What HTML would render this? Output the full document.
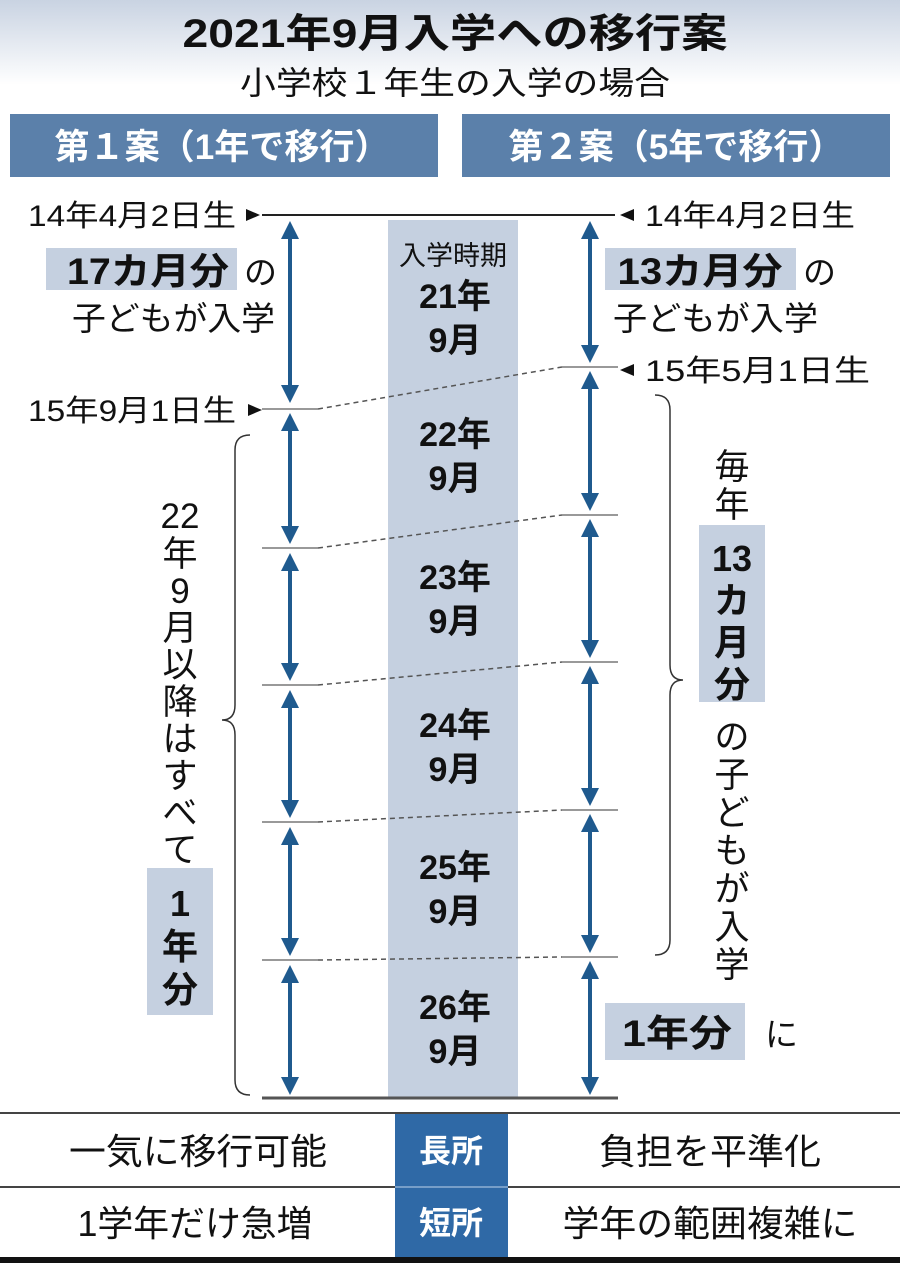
<!DOCTYPE html>
<html><head><meta charset="utf-8"><style>
html,body{margin:0;padding:0;background:#fff;}
svg{display:block;}
text{font-family:"Liberation Sans","Noto Sans CJK JP",sans-serif;fill:#111;}
.b{font-weight:bold;}
</style></head><body>
<svg width="900" height="1263" viewBox="0 0 900 1263" xmlns="http://www.w3.org/2000/svg">
<defs>
<linearGradient id="g" x1="0" y1="0" x2="0" y2="1"><stop offset="0" stop-color="#c9d3e2"/><stop offset="1" stop-color="#fff"/></linearGradient>
<marker id="ah" viewBox="0 0 10 10" refX="5" refY="5" markerWidth="4.5" markerHeight="4.5" orient="auto-start-reverse"><path d="M0,0L10,5L0,10z" fill="#1f5a8e"/></marker>
</defs>
<rect x="0" y="0" width="900" height="85" fill="url(#g)"/>
<text x="455" y="47" font-size="40" text-anchor="middle" class="b" textLength="545" lengthAdjust="spacingAndGlyphs">2021年9月入学への移行案</text>
<text x="455" y="94" font-size="32" text-anchor="middle" textLength="430" lengthAdjust="spacingAndGlyphs">小学校１年生の入学の場合</text>
<rect x="10" y="114" width="428" height="63" fill="#5b80aa"/>
<rect x="462" y="114" width="428" height="63" fill="#5b80aa"/>
<text x="222" y="159" font-size="35" text-anchor="middle" class="b" style="fill:#fff" textLength="335" lengthAdjust="spacingAndGlyphs">第１案（1年で移行）</text>
<text x="676" y="159" font-size="35" text-anchor="middle" class="b" style="fill:#fff" textLength="335" lengthAdjust="spacingAndGlyphs">第２案（5年で移行）</text>
<rect x="388" y="220" width="130" height="878" fill="#c5d0e0"/>
<line x1="262" y1="215" x2="615" y2="215" stroke="#222" stroke-width="2"/>
<line x1="262" y1="1098" x2="618" y2="1098" stroke="#555" stroke-width="3"/>
<path d="M246,209L260,215L246,221z" fill="#111"/>
<path d="M248,404L262,410L248,416z" fill="#111"/>
<path d="M634,209L620,215L634,221z" fill="#111"/>
<path d="M634,364L620,370L634,376z" fill="#111"/>
<text x="236" y="226" font-size="30" text-anchor="end" textLength="208" lengthAdjust="spacingAndGlyphs">14年4月2日生</text>
<text x="645" y="226" font-size="30" textLength="210" lengthAdjust="spacingAndGlyphs">14年4月2日生</text>
<text x="236" y="421" font-size="30" text-anchor="end" textLength="208" lengthAdjust="spacingAndGlyphs">15年9月1日生</text>
<text x="645" y="381" font-size="30" textLength="225" lengthAdjust="spacingAndGlyphs">15年5月1日生</text>
<g stroke="#999" stroke-width="2">
<line x1="262" y1="409" x2="318" y2="409"/><line x1="262" y1="548" x2="318" y2="548"/><line x1="262" y1="685" x2="318" y2="685"/><line x1="262" y1="822" x2="318" y2="822"/><line x1="262" y1="960" x2="318" y2="960"/>
<line x1="562" y1="367" x2="618" y2="367"/><line x1="562" y1="515" x2="618" y2="515"/><line x1="562" y1="662" x2="618" y2="662"/><line x1="562" y1="810" x2="618" y2="810"/><line x1="562" y1="957" x2="618" y2="957"/>
</g>
<g stroke="#555" stroke-width="1.5" stroke-dasharray="5,4">
<line x1="318" y1="409" x2="562" y2="367"/><line x1="318" y1="548" x2="562" y2="515"/><line x1="318" y1="685" x2="562" y2="662"/><line x1="318" y1="822" x2="562" y2="810"/><line x1="318" y1="960" x2="562" y2="957"/>
</g>
<g stroke="#1f5a8e" stroke-width="4" marker-start="url(#ah)" marker-end="url(#ah)">
<line x1="290" y1="230" x2="290" y2="394"/><line x1="290" y1="422" x2="290" y2="535"/><line x1="290" y1="562" x2="290" y2="672"/><line x1="290" y1="699" x2="290" y2="809"/><line x1="290" y1="836" x2="290" y2="947"/><line x1="290" y1="974" x2="290" y2="1086"/>
<line x1="590" y1="230" x2="590" y2="354"/><line x1="590" y1="380" x2="590" y2="502"/><line x1="590" y1="528" x2="590" y2="649"/><line x1="590" y1="675" x2="590" y2="797"/><line x1="590" y1="823" x2="590" y2="944"/><line x1="590" y1="970" x2="590" y2="1086"/>
</g>
<g font-size="34" text-anchor="middle" class="b">
<text x="453" y="265" font-size="27" font-weight="normal">入学時期</text>
<text x="455" y="308">21年</text><text x="455" y="352">9月</text>
<text x="455" y="446">22年</text><text x="455" y="490">9月</text>
<text x="455" y="589">23年</text><text x="455" y="633">9月</text>
<text x="455" y="737">24年</text><text x="455" y="781">9月</text>
<text x="455" y="879">25年</text><text x="455" y="923">9月</text>
<text x="455" y="1019">26年</text><text x="455" y="1063">9月</text>
</g>
<rect x="46" y="248" width="191" height="42" fill="#c5d0e0"/>
<text x="148" y="284" font-size="37" text-anchor="middle" class="b" textLength="162" lengthAdjust="spacingAndGlyphs">17カ月分</text>
<text x="244" y="284" font-size="33">の</text>
<text x="72" y="330" font-size="33" textLength="203" lengthAdjust="spacingAndGlyphs">子どもが入学</text>
<rect x="605" y="248" width="191" height="42" fill="#c5d0e0"/>
<text x="700" y="284" font-size="37" text-anchor="middle" class="b" textLength="165" lengthAdjust="spacingAndGlyphs">13カ月分</text>
<text x="803" y="284" font-size="33">の</text>
<text x="613" y="330" font-size="33" textLength="205" lengthAdjust="spacingAndGlyphs">子どもが入学</text>
<path d="M250,435 Q235,435 235,450 L235,705 Q235,720 222,720 Q235,720 235,735 L235,1080 Q235,1095 250,1095" fill="none" stroke="#333" stroke-width="1.5"/>
<path d="M655,395 Q670,395 670,410 L670,665 Q670,680 683,680 Q670,680 670,695 L670,940 Q670,955 655,955" fill="none" stroke="#333" stroke-width="1.5"/>
<g font-size="35" text-anchor="middle">
<text x="180" y="528">22</text><text x="180" y="566">年</text><text x="180" y="603">9</text><text x="180" y="640">月</text><text x="180" y="677">以</text><text x="180" y="714">降</text><text x="180" y="751">は</text><text x="180" y="788">す</text><text x="180" y="825">べ</text><text x="180" y="862">て</text>
</g>
<rect x="147" y="868" width="66" height="147" fill="#c5d0e0"/>
<g font-size="36" text-anchor="middle" class="b"><text x="180" y="916">1</text><text x="180" y="959">年</text><text x="180" y="1002">分</text></g>
<g font-size="35" text-anchor="middle">
<text x="732" y="479">毎</text><text x="732" y="517">年</text>
<text x="732" y="749">の</text><text x="732" y="787">子</text><text x="732" y="825">ど</text><text x="732" y="863">も</text><text x="732" y="901">が</text><text x="732" y="939">入</text><text x="732" y="977">学</text>
</g>
<rect x="699" y="525" width="66" height="177" fill="#c5d0e0"/>
<g font-size="36" text-anchor="middle" class="b"><text x="732" y="571">13</text><text x="732" y="613">カ</text><text x="732" y="655">月</text><text x="732" y="697">分</text></g>
<rect x="605" y="1003" width="140" height="57" fill="#c5d0e0"/>
<text x="677" y="1046" font-size="37" text-anchor="middle" class="b" textLength="110" lengthAdjust="spacingAndGlyphs">1年分</text>
<text x="765" y="1046" font-size="33">に</text>
<line x1="0" y1="1113" x2="900" y2="1113" stroke="#444" stroke-width="2"/>
<line x1="0" y1="1187" x2="900" y2="1187" stroke="#444" stroke-width="2"/>
<rect x="395" y="1114" width="113" height="144" fill="#2f69a6"/>
<line x1="395" y1="1187" x2="508" y2="1187" stroke="#8fb0d4" stroke-width="1.5"/>
<rect x="0" y="1257" width="900" height="6" fill="#111"/>
<g font-size="36" text-anchor="middle">
<text x="198" y="1164" textLength="258" lengthAdjust="spacingAndGlyphs">一気に移行可能</text><text x="710" y="1164" textLength="222" lengthAdjust="spacingAndGlyphs">負担を平準化</text>
<text x="195" y="1236" textLength="235" lengthAdjust="spacingAndGlyphs">1学年だけ急増</text><text x="710" y="1236" textLength="295" lengthAdjust="spacingAndGlyphs">学年の範囲複雑に</text>
</g>
<g font-size="32" text-anchor="middle" class="b">
<text x="451" y="1162" style="fill:#fff">長所</text><text x="451" y="1234" style="fill:#fff">短所</text>
</g>
</svg>
</body></html>
